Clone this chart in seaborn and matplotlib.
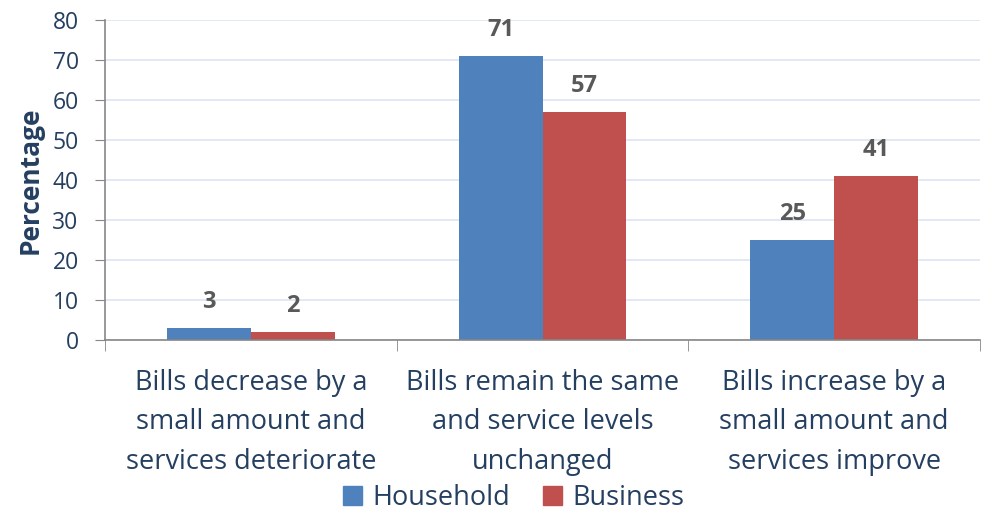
import pandas as pd
import numpy as np
import seaborn as sns
import matplotlib.pyplot as plt
from matplotlib.patches import Patch

sns.set_style("white")
plt.rcParams["font.family"] = ["Open Sans", "DejaVu Sans"]

categories = [
    "Bills decrease by a\nsmall amount and\nservices deteriorate",
    "Bills remain the same\nand service levels\nunchanged",
    "Bills increase by a\nsmall amount and\nservices improve",
]
series = ["Household", "Business"]
household = [3, 71, 25]
business = [2, 57, 41]
colors = ["#4f81bd", "#c0504d"]
text_color = "#243f60"

df = pd.DataFrame({
    "category": categories * 2,
    "group": [series[0]] * 3 + [series[1]] * 3,
    "value": household + business,
})

fig = plt.figure(figsize=(9.82, 5.14), dpi=100)
ax = fig.add_axes([0.107, 0.339, 0.891, 0.622])

sns.barplot(data=df, x="category", y="value", hue="group", palette=colors,
            width=0.575, linewidth=0, saturation=1, ax=ax, legend=False)

for cont in ax.containers:
    ax.bar_label(cont, padding=10, fontsize=17, fontweight="bold", color="#595959")

ax.set_ylim(0, 80)
ax.set_yticks(range(0, 81, 10))
ax.set_xlim(-0.5, 2.5)
ax.yaxis.grid(True, color="#dce6f2", linewidth=1.2)
ax.set_axisbelow(True)

for s in ["top", "right"]:
    ax.spines[s].set_visible(False)
for s in ["left", "bottom"]:
    ax.spines[s].set_color("#868686")
    ax.spines[s].set_linewidth(1.2)

ax.tick_params(axis="y", direction="out", length=7, color="#868686",
               labelsize=16.5, labelcolor=text_color, pad=12, left=True)
ax.set_xticks(range(3))
ax.set_xticklabels(categories, fontsize=19.5, color=text_color, linespacing=1.55)
ax.tick_params(axis="x", which="major", length=0, pad=21)
ax.set_xticks([-0.5, 0.5, 1.5, 2.5], minor=True)
ax.tick_params(axis="x", which="minor", direction="out", length=8,
               color="#868686", bottom=True)

ax.set_xlabel("")
ax.set_ylabel("Percentage", fontsize=19, fontweight="bold", color=text_color, labelpad=6)

handles = [Patch(color=c, label=s) for c, s in zip(colors, series)]
fig.legend(handles=handles, loc="lower center", bbox_to_anchor=(0.523, -0.038),
           ncol=2, frameon=False, fontsize=19.5, labelcolor=text_color,
           handlelength=0.7, handleheight=0.7, handletextpad=0.4, columnspacing=1.2,
           borderpad=0.3)

fig.savefig("out.png", dpi=100)
